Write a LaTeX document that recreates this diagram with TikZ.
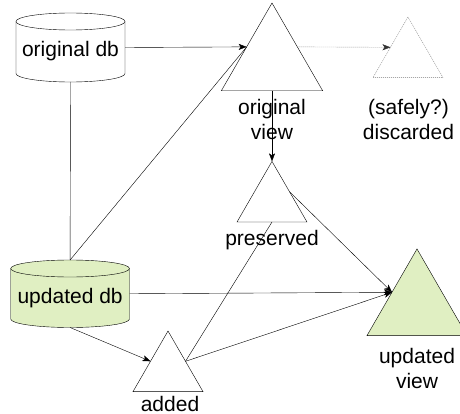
\documentclass[tikz,border=0pt]{standalone}
\usepackage{fontspec}
\setmainfont{Liberation Sans}
\usetikzlibrary{shapes.geometric,arrows.meta,calc}
\pgfdeclarelayer{bg}
\pgfsetlayers{bg,main}
\definecolor{dbgreen}{RGB}{224,239,194}
\definecolor{ghost}{RGB}{120,120,120}
\begin{document}
\begin{tikzpicture}[x=1pt,y=1pt,line width=0.9pt,
  txt/.style={font=\fontsize{21}{25}\selectfont},
  lbl/.style={txt, inner sep=0pt, outer sep=0pt, align=center},
  tri/.style={regular polygon, regular polygon sides=3, draw, fill=white, inner sep=0pt, outer sep=0pt, minimum size=#1},
  dbnode/.style={txt, rectangle, inner sep=0pt, outer sep=0pt, text height=23.4pt, text depth=4.4pt},
  arr/.style={-{Stealth[length=8pt,width=6pt,inset=2pt]}},
  dotarr/.style={-{Stealth[length=8pt,width=6pt,inset=2pt,color=black!80]}, draw=ghost, dash pattern=on 1pt off 1pt},
]
\clip (0,0) rectangle (460,-414);
% databases
\node[dbnode, minimum width=109pt, minimum height=69pt] (od) at (70.5,-47.5) {original db};
\node[dbnode, minimum width=118.8pt, minimum height=67.5pt] (ud) at (70.1,-293.75) {updated db};
\begin{pgfonlayer}{bg}
  \draw[fill=white] (16,-21.5) -- (16,-73.5) arc[start angle=180,end angle=360,x radius=54.5,y radius=8.5]
     -- (125,-21.5) arc[start angle=0,end angle=180,x radius=54.5,y radius=8.5] -- cycle;
  \draw (16,-21.5) arc[start angle=180,end angle=360,x radius=54.5,y radius=8.5];
  \draw[fill=dbgreen] (10.7,-268.5) -- (10.7,-319) arc[start angle=180,end angle=360,x radius=59.4,y radius=8.5]
     -- (129.5,-268.5) arc[start angle=0,end angle=180,x radius=59.4,y radius=8.5] -- cycle;
  \draw (10.7,-268.5) arc[start angle=180,end angle=360,x radius=59.4,y radius=8.5];
\end{pgfonlayer}
% views
\node[tri=117pt] (ov) at (272,-61.5) {};
\node[tri=80.8pt, draw=ghost, dash pattern=on 1pt off 1pt] (disc) at (408,-57.4) {};
\node[tri=80.8pt] (pres) at (272,-201.8) {};
\node[tri=115.5pt, fill=dbgreen] (uv) at (417,-306.7) {};
\node[tri=80.8pt] (add) at (168,-371.4) {};
% labels (base = baseline of the last line)
\node[lbl, anchor=base] (lov) at (272,-140) {original\\view};
\node[lbl, anchor=base] (ldisc) at (408.5,-140) {(safely?)\\discarded};
\node[lbl, anchor=base] (lpres) at (272,-245) {preserved};
\node[lbl, anchor=base] (luv) at (417,-388) {updated\\view};
\node[lbl, anchor=base] (ladd) at (170,-411) {added};
% connectors
\draw[arr] (od.east) -- (ov.side 1);
\draw (od.south) -- (ud.north);
\draw (ud.north) -- (ov.side 1);
\draw[dotarr] (ov.side 3) -- (disc.side 1);
\draw[arr] (ov.side 2) -- (pres.corner 1);
\draw[arr] (pres.side 3) -- (uv.side 1);
\draw[arr] (ud.east) -- (uv.side 1);
\draw[arr] (ud.south) -- (add.side 1);
\draw (add.side 3) -- (pres.side 2);
\draw[arr] (add.side 3) -- (uv.side 1);
\end{tikzpicture}
\end{document}
